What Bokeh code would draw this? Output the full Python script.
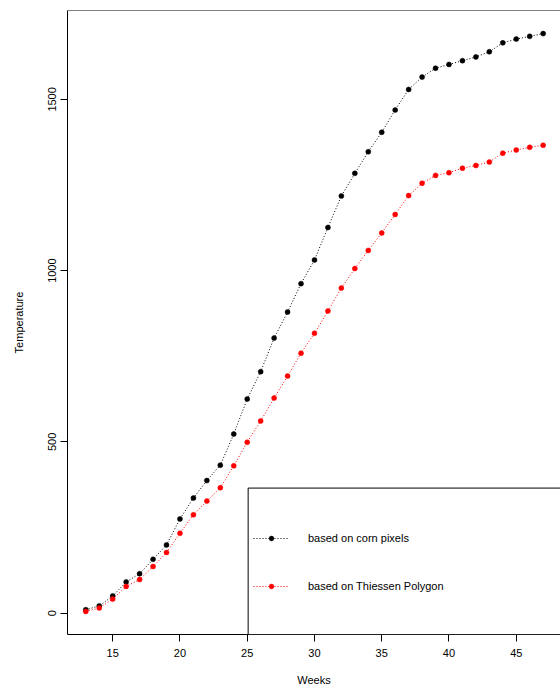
from bokeh.plotting import figure
from bokeh.models import Range1d, FixedTicker, Legend, LegendItem, BoxAnnotation, Span
from bokeh.embed import file_html
from bokeh.resources import INLINE

# Weekly accumulated temperature, two ways of averaging
weeks = [13, 14, 15, 16, 17, 18, 19, 20, 21, 22, 23, 24, 25, 26, 27, 28, 29, 30,
         31, 32, 33, 34, 35, 36, 37, 38, 39, 40, 41, 42, 43, 44, 45, 46, 47]
corn_pixels = [10, 21, 50, 91, 115, 157, 199, 275, 336, 387, 432, 523, 625, 705,
               803, 879, 962, 1031, 1126, 1218, 1284, 1347, 1404, 1469, 1529, 1565,
               1591, 1602, 1613, 1624, 1639, 1665, 1676, 1684, 1692]
thiessen = [5, 15, 41, 78, 98, 136, 177, 233, 287, 327, 366, 430, 499, 561, 628,
            692, 759, 817, 882, 949, 1006, 1059, 1110, 1164, 1219, 1255, 1278, 1286,
            1299, 1307, 1317, 1343, 1352, 1360, 1366]
x_ticks = [15, 20, 25, 30, 35, 40, 45]
y_ticks = [0, 500, 1000, 1500]
labels = ["based on corn pixels", "based on Thiessen Polygon"]

FONT = "Liberation Sans"
FS = "11px"

# axis limits padded by 4% of the data range on each side
y_lo = min(min(corn_pixels), min(thiessen))
y_hi = max(max(corn_pixels), max(thiessen))
y_pad = 0.04 * (y_hi - y_lo)
x_pad = 0.04 * (max(weeks) - min(weeks))
x_start = min(weeks) - x_pad
x_end = x_start + 36.65          # the right edge of the panel sits at the canvas edge
y_start = y_lo - y_pad
y_end = y_hi + y_pad

p = figure(width=560, height=688, output_backend="svg", toolbar_location=None,
           x_range=Range1d(x_start, x_end), y_range=Range1d(y_start, y_end),
           min_border_left=67, min_border_right=0, min_border_top=10,
           min_border_bottom=54, title=None)
p.background_fill_color = "white"
p.border_fill_color = "white"
p.outline_line_color = None
p.grid.visible = False

for ax in (p.xaxis, p.yaxis):
    ax.axis_line_color = "black"
    ax.major_tick_line_color = "black"
    ax.minor_tick_line_color = None
    ax.major_tick_in = 0
    ax.major_tick_out = 7
    ax.major_label_text_font = FONT
    ax.major_label_text_font_size = FS
    ax.major_label_text_color = "black"
    ax.axis_label_text_font = FONT
    ax.axis_label_text_font_size = FS
    ax.axis_label_text_font_style = "normal"
    ax.axis_label_text_color = "black"

p.xaxis.ticker = FixedTicker(ticks=x_ticks)
p.yaxis.ticker = FixedTicker(ticks=y_ticks)
p.xaxis.axis_label = "Weeks"
p.yaxis.axis_label = "Temperature"
p.xaxis.major_label_standoff = 7
p.yaxis.major_label_standoff = 4
p.xaxis.axis_label_standoff = 14
p.yaxis.axis_label_standoff = 21
p.yaxis.major_label_orientation = "vertical"

# top border of the panel
p.add_layout(Span(location=y_end, dimension="width", line_color="black", line_width=1))

l1 = p.line(weeks, corn_pixels, line_color="black", line_width=1, line_dash="1 2")
s1 = p.scatter(weeks, corn_pixels, size=5, fill_color="black", line_color="black",
               line_width=0.5)
l2 = p.line(weeks, thiessen, line_color="red", line_width=1, line_dash="1 2")
s2 = p.scatter(weeks, thiessen, size=5, fill_color="red", line_color="red",
               line_width=0.5)

# framed legend box in the lower right corner
p.add_layout(BoxAnnotation(left=25.07, right=x_end + 1, bottom=y_start, top=365,
                           fill_color="white", fill_alpha=1.0,
                           line_color="black", line_alpha=1.0, line_width=1))

legend = Legend(items=[LegendItem(label=labels[0], renderers=[l1, s1]),
                       LegendItem(label=labels[1], renderers=[l2, s2])],
                location=(186, 38), padding=0, margin=0, spacing=28,
                glyph_width=36, glyph_height=12, label_height=20, label_standoff=19,
                border_line_color=None, background_fill_alpha=0,
                label_text_font=FONT, label_text_font_size=FS,
                label_text_color="black")
p.add_layout(legend)

open("out.html", "w").write(file_html(p, INLINE))
